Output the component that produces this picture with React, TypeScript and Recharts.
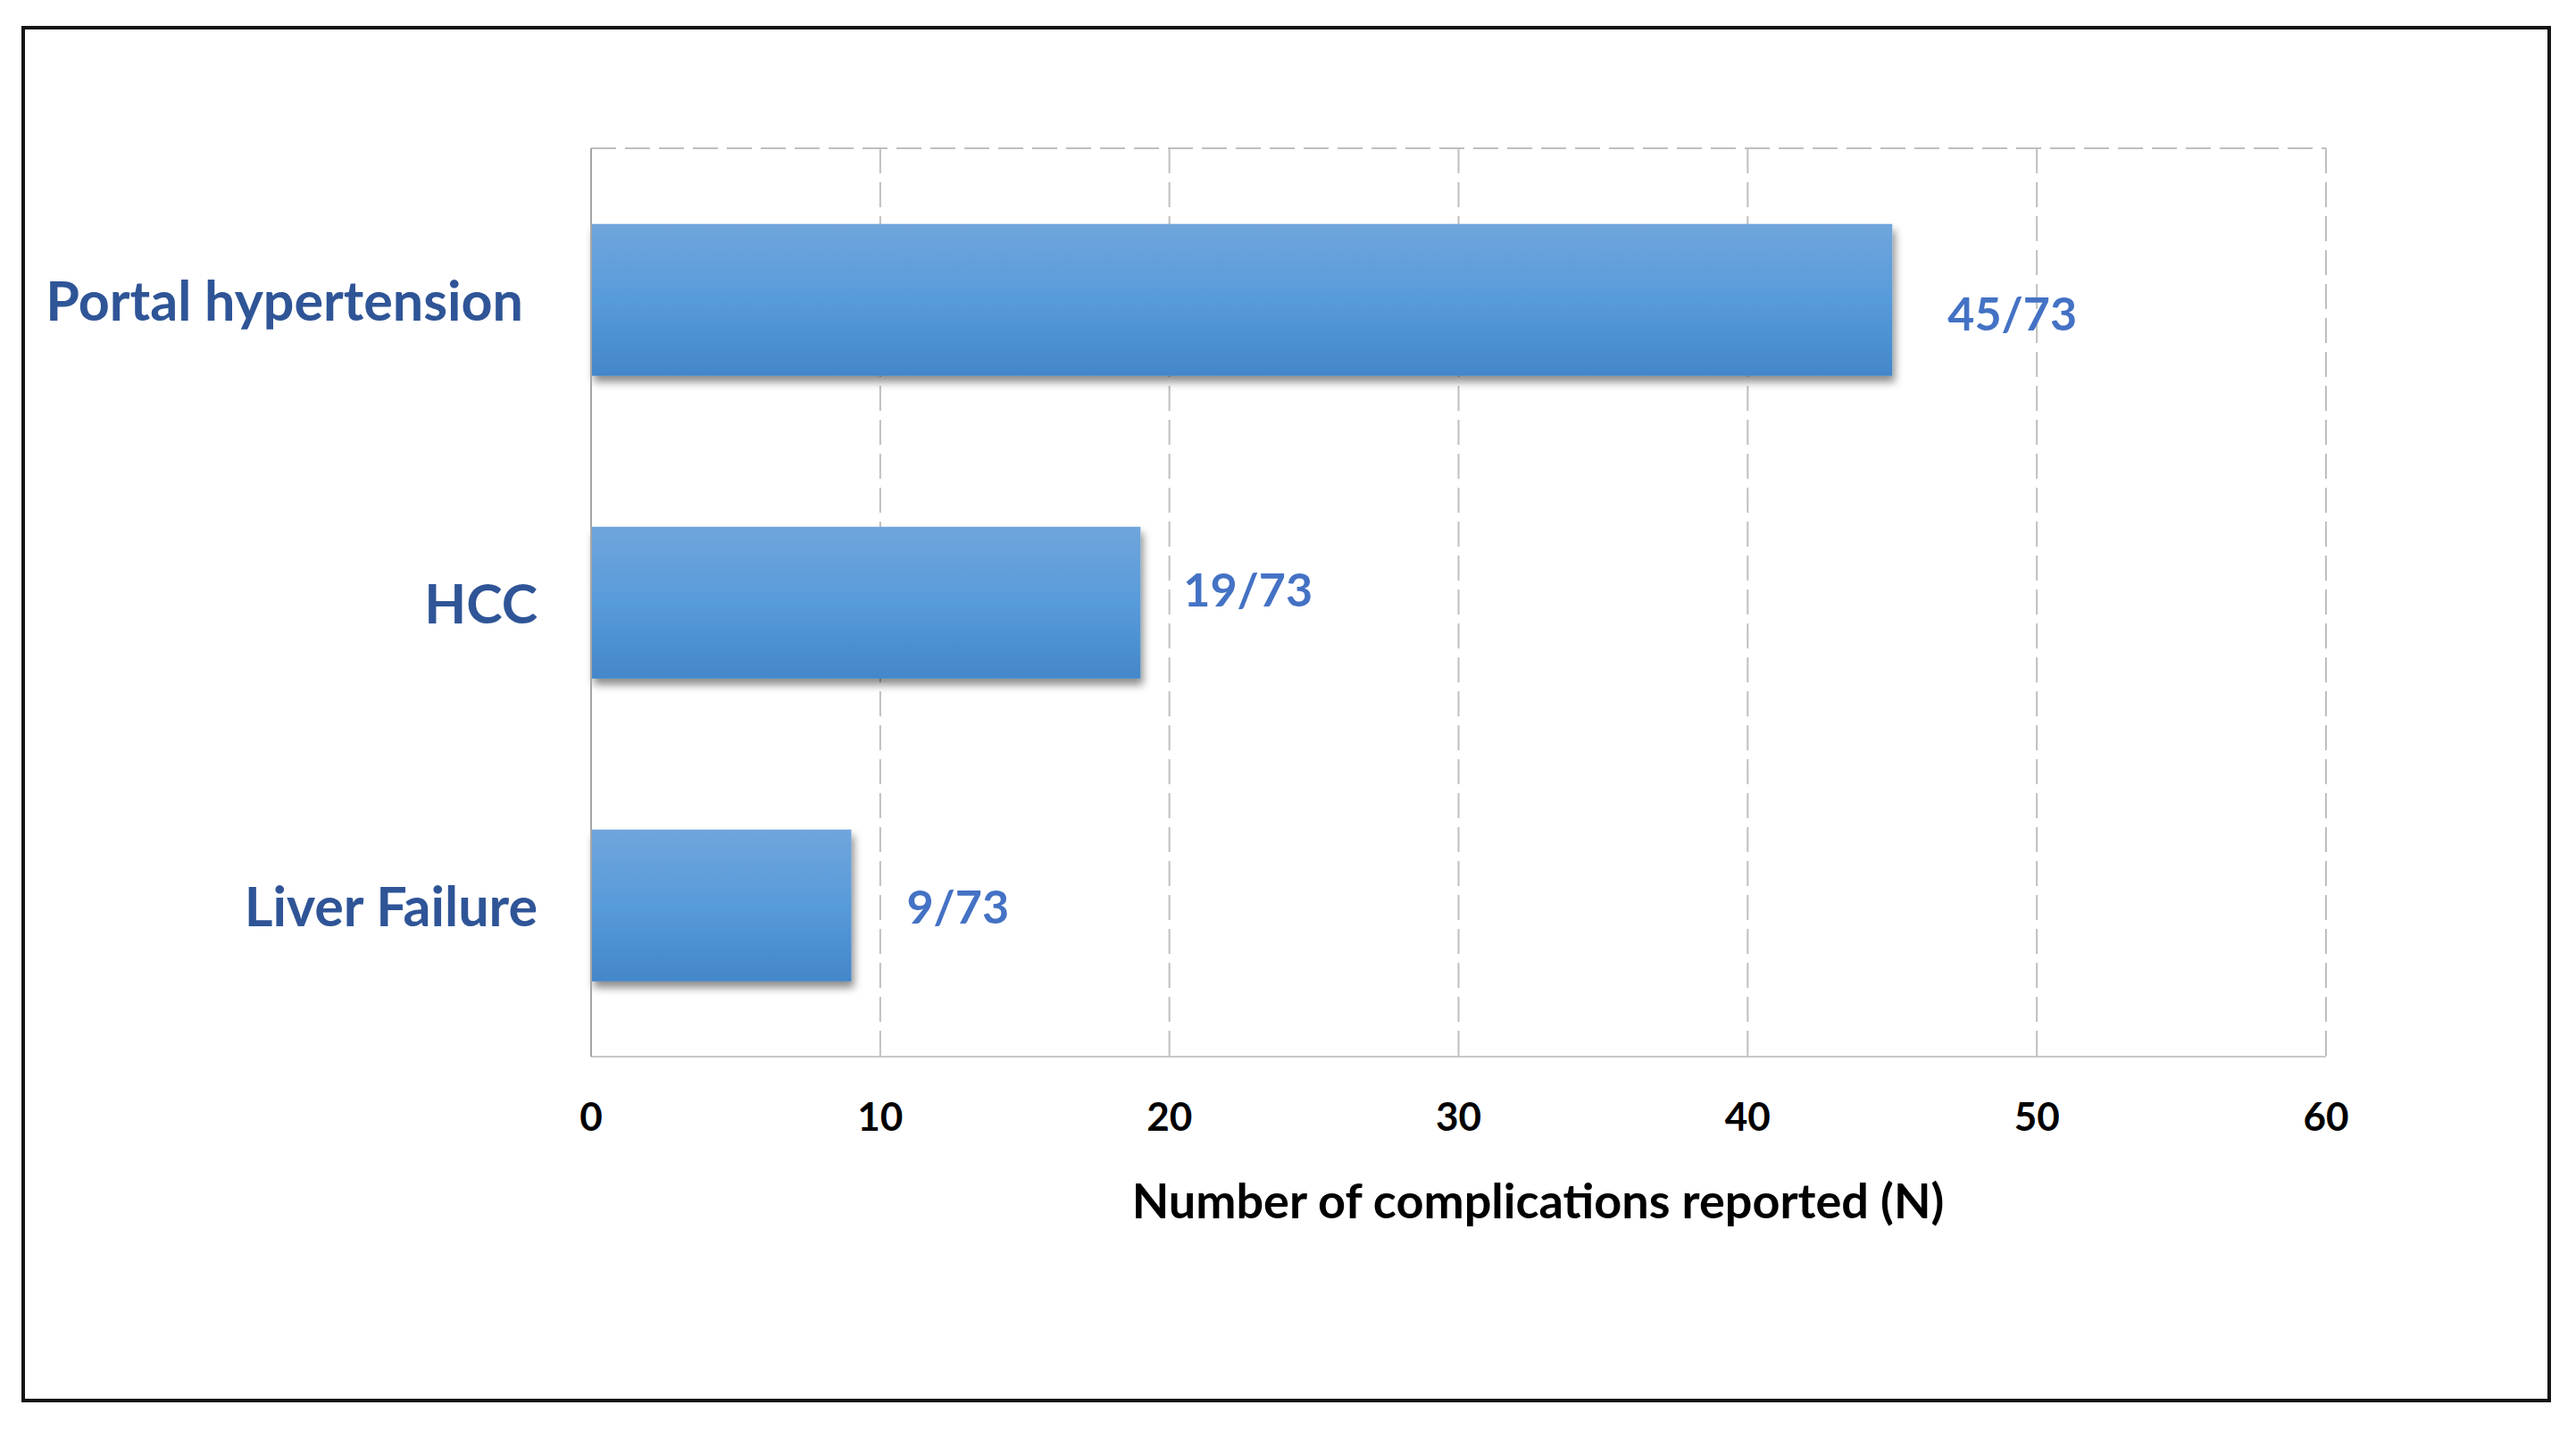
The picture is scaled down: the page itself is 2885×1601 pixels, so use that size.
import React from 'react';
import { BarChart, Bar, XAxis, YAxis, CartesianGrid, LabelList } from 'recharts';

const categories = ['Portal hypertension', 'HCC', 'Liver Failure'];
const counts = [45, 19, 9];
const totals = [73, 73, 73];
const xTicks = [0, 10, 20, 30, 40, 50, 60];
const axisTitle = 'Number of complications reported (N)';

const data = categories.map((name, i) => ({
  name,
  value: counts[i],
  label: `${counts[i]}/${totals[i]}`,
}));

// small per-label nudges (style only) to mimic the hand-placed text boxes
const labelNudge = [
  { dx: 0, dy: 14 },
  { dx: -14, dy: -16 },
  { dx: 0, dy: 0 },
];
const tickNudge = [-16, 0, 0];

const FONT = 'Lato, "Open Sans", sans-serif';
const CHART_W = 2825;
const CHART_H = 1533;
const MARGIN = { top: 133, right: 248, bottom: 153, left: 0 };

const BarShape = (props: any) => {
  const { x, y, width, height } = props;
  if (width <= 0) return null;
  return (
    <rect x={x} y={y} width={width} height={height} fill="url(#barGrad)" filter="url(#barShadow)" />
  );
};

const YTick = (props: any) => {
  const { x, y, payload, index } = props;
  const nx = tickNudge[index] || 0;
  return (
    <text x={x + nx} y={y} textAnchor="end" dominantBaseline="central" fill="#2F5597"
      fontFamily={FONT} fontWeight={700} fontSize={61}>
      {payload.value}
    </text>
  );
};

const ValueLabel = (props: any) => {
  const { x, y, width, height, value, index } = props;
  const n = labelNudge[index] || { dx: 0, dy: 0 };
  return (
    <text x={x + width + 62 + n.dx} y={y + height / 2 + n.dy} textAnchor="start" dominantBaseline="central"
      fill="#4472C4" fontFamily={FONT} fontWeight={700} fontSize={52}>
      {value}
    </text>
  );
};

const XTitle = (props: any) => {
  const vb = props.viewBox || { x: 634, y: 1150, width: 1943, height: 230 };
  return (
    <text x={vb.x + vb.width / 2 + 89} y={vb.y + 160} textAnchor="middle" dominantBaseline="central"
      fill="#000" fontFamily={FONT} fontWeight={700} fontSize={54}>
      {axisTitle}
    </text>
  );
};

export default function App() {
  return (
    <div style={{ padding: '21px 0 0 16px' }}>
      <div style={{ width: CHART_W, height: CHART_H, border: '4px solid #141414', background: '#fff' }}>
        <BarChart width={CHART_W} height={CHART_H} data={data} layout="vertical" margin={MARGIN}
          barCategoryGap="25%">
          <defs>
            <linearGradient id="barGrad" x1="0" y1="0" x2="0" y2="1">
              <stop offset="0%" stopColor="#70A5DC" />
              <stop offset="50%" stopColor="#579BDA" />
              <stop offset="100%" stopColor="#4387CA" />
            </linearGradient>
            <filter id="barShadow" x="-5%" y="-20%" width="115%" height="150%">
              <feDropShadow dx="3" dy="7" stdDeviation="5" floodColor="#000" floodOpacity="0.45" />
            </filter>
          </defs>
          <CartesianGrid
            stroke="#BFBFBF"
            strokeWidth={2}
            strokeDasharray="28 10"
            horizontalCoordinatesGenerator={(p: any) => {
              const o = p && p.offset;
              if (o && typeof o.top === 'number') return [o.top, o.top + o.height];
              return [MARGIN.top, CHART_H - MARGIN.bottom - 230];
            }}
          />
          <XAxis
            type="number"
            domain={[0, 60]}
            ticks={xTicks}
            interval={0}
            height={230}
            axisLine={{ stroke: '#C8C8C8', strokeWidth: 2 }}
            tickLine={false}
            tickSize={0}
            tickMargin={52}
            tick={{ fill: '#000', fontSize: 44, fontWeight: 700, fontFamily: FONT }}
            label={(p: any) => <XTitle {...p} />}
          />
          <YAxis
            type="category"
            dataKey="name"
            width={634}
            axisLine={{ stroke: '#A6A6A6', strokeWidth: 2 }}
            tickLine={false}
            tickSize={0}
            tickMargin={60}
            tick={<YTick />}
          />
          <Bar dataKey="value" isAnimationActive={false} shape={<BarShape />}>
            <LabelList dataKey="label" content={<ValueLabel />} />
          </Bar>
        </BarChart>
      </div>
    </div>
  );
}
